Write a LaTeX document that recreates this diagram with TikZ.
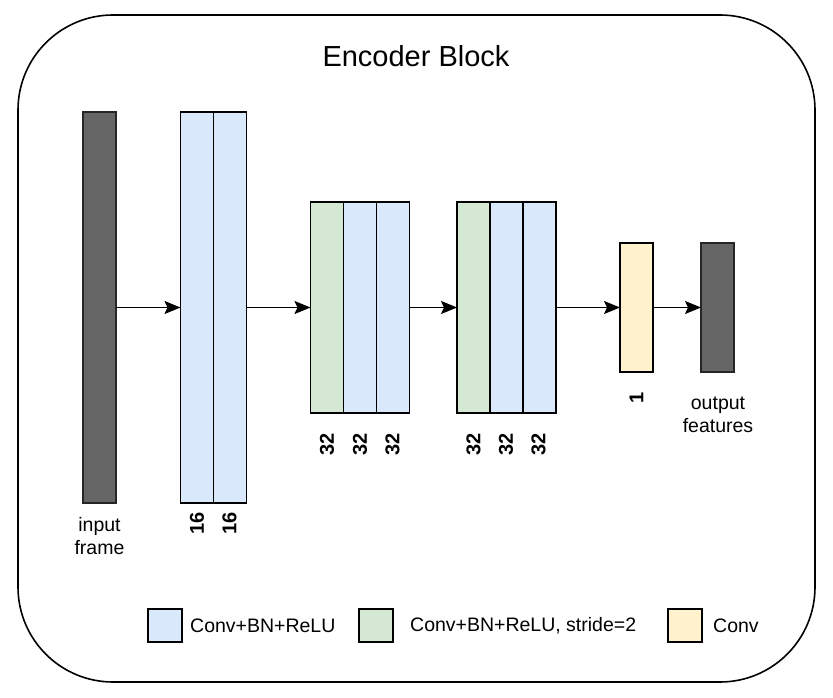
\documentclass[tikz,border=0pt]{standalone}
\usepackage{fontspec}
\setmainfont{Liberation Sans}
\usepackage{tikz}
\usetikzlibrary{arrows.meta,positioning}
\definecolor{framegray}{HTML}{666666}
\definecolor{convblue}{HTML}{DAE8FC}
\definecolor{stridegreen}{HTML}{D5E8D4}
\definecolor{convyellow}{HTML}{FFF2CC}

\begin{document}
\begin{tikzpicture}[x=1pt,y=-1pt,
  layer/.style={draw=black,line width=1.7pt,inner sep=0pt,outer sep=0pt,minimum width=33pt},
  featmap/.style={layer,draw=black!85,fill=framegray},
  cbr/.style={layer,fill=convblue},
  cbrs/.style={layer,fill=stridegreen},
  convl/.style={layer,fill=convyellow},
  conn/.style={line width=1.6pt,-{Stealth[length=16pt,width=13pt,inset=3pt]}},
  chan/.style={font=\fontsize{20}{22}\selectfont\bfseries,rotate=90,inner sep=0pt},
  lbl/.style={font=\fontsize{19.5}{23}\selectfont,align=center,inner sep=0pt},
  legbox/.style={layer,minimum width=34pt,minimum height=33pt}]
\useasboundingbox (0,0) rectangle (833,698);
\draw[line width=1.6pt,rounded corners=95pt] (18,15) rectangle (815,682);
\node[font=\fontsize{29}{32}\selectfont] (title) at (416,56) {Encoder Block};

\node[featmap,minimum height=391pt] (in) at (99.5,307.5) {};
\node[cbr,minimum height=391pt] (e1a) at (197,307.5) {};
\node[cbr,minimum height=391pt,right=0pt of e1a] (e1b) {};

\node[cbrs,minimum height=211pt] (e2a) at (327,307.5) {};
\node[cbr,minimum height=211pt,right=0pt of e2a] (e2b) {};
\node[cbr,minimum height=211pt,right=0pt of e2b] (e2c) {};

\node[cbrs,minimum height=211pt] (e3a) at (473.5,307.5) {};
\node[cbr,minimum height=211pt,right=0pt of e3a] (e3b) {};
\node[cbr,minimum height=211pt,right=0pt of e3b] (e3c) {};

\node[convl,minimum height=129pt] (out) at (636.5,307.5) {};
\node[featmap,minimum height=129pt] (feat) at (717.5,307.5) {};

\draw[conn] (in) -- (e1a);
\draw[conn] (e1b) -- (e2a);
\draw[conn] (e2c) -- (e3a);
\draw[conn] (e3c) -- (out);
\draw[conn] (out) -- (feat);

% channel counts
\node[chan] (n1a) at (197,523) {16};
\node[chan] (n1b) at (229.5,523) {16};
\foreach \xx/\nm in {327/n2a,360/n2b,392.5/n2c,473.5/n3a,506/n3b,538.5/n3c}
  \node[chan] (\nm) at (\xx,444) {32};
\node[chan] (n4) at (636.5,398) {1};

\node[lbl] (inlbl) at (99.5,536) {input\\frame};
\node[lbl] (featlbl) at (718,414.5) {output\\features};

% legend
\node[legbox,fill=convblue] (legblue) at (165,625.5) {};
\node[lbl,anchor=west,right=8pt of legblue] (legbluetxt) {Conv+BN+ReLU};
\node[legbox,fill=stridegreen] (leggreen) at (376,625.5) {};
\node[lbl,anchor=west,right=17pt of leggreen] (leggreentxt) {Conv+BN+ReLU, stride=2};
\node[legbox,fill=convyellow] (legyellow) at (685,625.5) {};
\node[lbl,anchor=west,right=11pt of legyellow] (legyellowtxt) {Conv};
\end{tikzpicture}
\end{document}
